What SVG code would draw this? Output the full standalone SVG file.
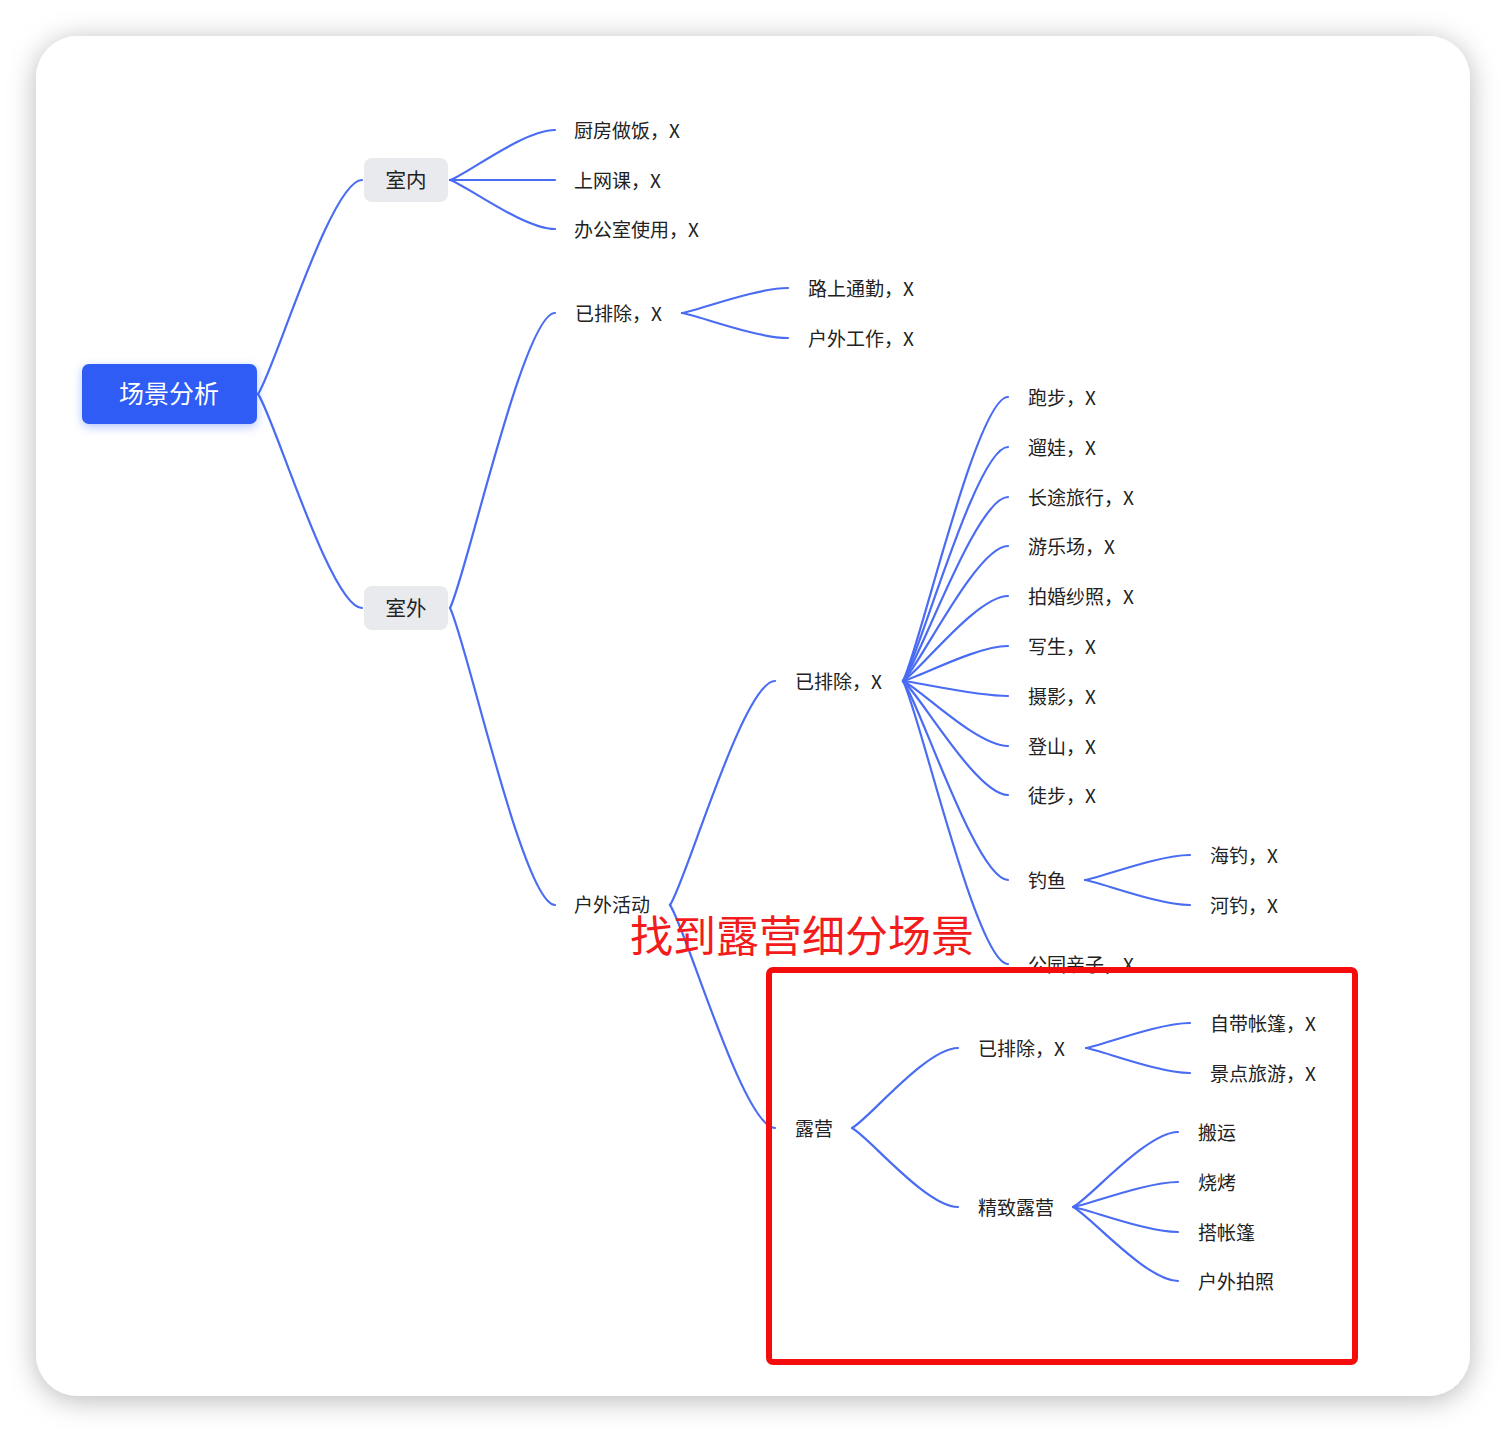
<svg xmlns="http://www.w3.org/2000/svg" width="1506" height="1432" viewBox="0 0 1506 1432">
<defs>
<style>
.t{font-family:"Noto Sans CJK SC","Noto Sans",sans-serif;font-size:19px;fill:#222;dominant-baseline:central}
.l1{font-family:"Noto Sans CJK SC","Noto Sans",sans-serif;font-size:20.5px;fill:#222;text-anchor:middle;dominant-baseline:central}
.c{fill:none;stroke:#4a6cf3;stroke-width:2.2;stroke-linecap:round}
.gray{fill:#e9eaed}
</style>
<filter id="card" x="-10%" y="-10%" width="120%" height="120%">
<feDropShadow dx="0" dy="4" stdDeviation="14" flood-color="#000" flood-opacity="0.28"/>
</filter>
<filter id="glow" x="-30%" y="-50%" width="160%" height="200%">
<feDropShadow dx="0" dy="3" stdDeviation="5" flood-color="#2f5cf5" flood-opacity="0.35"/>
</filter>
</defs>
<rect width="1506" height="1432" fill="#ffffff"/>
<rect x="36" y="36" width="1434" height="1360" rx="42" fill="#ffffff" filter="url(#card)"/>

<g id="connectors">
<path class="c" d="M258 394 C273.6 372.6 330.8 180 362 180"/>
<path class="c" d="M258 394 C273.6 415.4 330.8 608 362 608"/>
<path class="c" d="M450 180 C465.75 175 523.5 130 555 130"/>
<path class="c" d="M450 180 L555 180"/>
<path class="c" d="M450 180 C465.75 184.9 523.5 229 555 229"/>
<path class="c" d="M450 608 C465.75 578.5 523.5 313 555 313"/>
<path class="c" d="M450 608 C465.75 637.7 523.5 905 555 905"/>
<path class="c" d="M682 313 C697.9 310.5 756.2 288 788 288"/>
<path class="c" d="M682 313 C697.9 315.5 756.2 338 788 338"/>
<path class="c" d="M670 905 C685.75 882.6 743.5 681 775 681"/>
<path class="c" d="M670 905 C685.75 927.3 743.5 1128 775 1128"/>
<path class="c" d="M903 681 C918.75 652.6 976.5 397 1008 397"/>
<path class="c" d="M903 681 C918.75 657.6 976.5 447 1008 447"/>
<path class="c" d="M903 681 C918.75 662.6 976.5 497 1008 497"/>
<path class="c" d="M903 681 C918.75 667.5 976.5 546 1008 546"/>
<path class="c" d="M903 681 C918.75 672.5 976.5 596 1008 596"/>
<path class="c" d="M903 681 C918.75 677.5 976.5 646 1008 646"/>
<path class="c" d="M903 681 C918.75 682.5 976.5 696 1008 696"/>
<path class="c" d="M903 681 C918.75 687.5 976.5 746 1008 746"/>
<path class="c" d="M903 681 C918.75 692.4 976.5 795 1008 795"/>
<path class="c" d="M903 681 C918.75 700.9 976.5 880 1008 880"/>
<path class="c" d="M903 681 C918.75 709.1 976.5 964 1008 964"/>
<path class="c" d="M1085 880 C1100.75 877.5 1158.5 855 1190 855"/>
<path class="c" d="M1085 880 C1100.75 882.5 1158.5 905 1190 905"/>
<path class="c" d="M852 1128 C867.9 1120 926.2 1048 958 1048"/>
<path class="c" d="M852 1128 C867.9 1135.9 926.2 1207 958 1207"/>
<path class="c" d="M1086 1048 C1101.6 1045.5 1158.8 1023 1190 1023"/>
<path class="c" d="M1086 1048 C1101.6 1050.5 1158.8 1073 1190 1073"/>
<path class="c" d="M1073 1207 C1088.75 1199.5 1146.5 1132 1178 1132"/>
<path class="c" d="M1073 1207 C1088.75 1204.5 1146.5 1182 1178 1182"/>
<path class="c" d="M1073 1207 C1088.75 1209.5 1146.5 1232 1178 1232"/>
<path class="c" d="M1073 1207 C1088.75 1214.4 1146.5 1281 1178 1281"/>
</g>

<g id="root">
<rect x="82" y="364" width="175" height="60" rx="7" fill="#2f5cf5" filter="url(#glow)"/>
<text x="169" y="392" font-family="'Noto Sans CJK SC','Noto Sans',sans-serif" font-size="25" fill="#ffffff" text-anchor="middle" dominant-baseline="central">场景分析</text>
</g>
<g id="n-shinei"><rect class="gray" x="364" y="158" width="84" height="44" rx="8"/><text class="l1" x="406" y="179">室内</text></g>
<g id="n-shiwai"><rect class="gray" x="364" y="586" width="84" height="44" rx="8"/><text class="l1" x="406" y="607">室外</text></g>

<g id="n-chufang"><text class="t" x="574" y="129">厨房做饭，X</text></g>
<g id="n-shangwangke"><text class="t" x="574" y="179">上网课，X</text></g>
<g id="n-bangongshi"><text class="t" x="574" y="228">办公室使用，X</text></g>
<g id="n-yipaichu1"><text class="t" x="575" y="312">已排除，X</text></g>
<g id="n-lushang"><text class="t" x="808" y="287">路上通勤，X</text></g>
<g id="n-huwaigongzuo"><text class="t" x="808" y="337">户外工作，X</text></g>
<g id="n-huwaihuodong"><text class="t" x="574" y="903">户外活动</text></g>
<g id="n-yipaichu2"><text class="t" x="795" y="680">已排除，X</text></g>
<g id="n-paobu"><text class="t" x="1028" y="396">跑步，X</text></g>
<g id="n-liuwa"><text class="t" x="1028" y="446">遛娃，X</text></g>
<g id="n-changtu"><text class="t" x="1028" y="496">长途旅行，X</text></g>
<g id="n-youlechang"><text class="t" x="1028" y="545">游乐场，X</text></g>
<g id="n-hunsha"><text class="t" x="1028" y="595">拍婚纱照，X</text></g>
<g id="n-xiesheng"><text class="t" x="1028" y="645">写生，X</text></g>
<g id="n-sheying"><text class="t" x="1028" y="695">摄影，X</text></g>
<g id="n-dengshan"><text class="t" x="1028" y="745">登山，X</text></g>
<g id="n-tubu"><text class="t" x="1028" y="794">徒步，X</text></g>
<g id="n-diaoyu"><text class="t" x="1028" y="879">钓鱼</text></g>
<g id="n-haidiao"><text class="t" x="1210" y="854">海钓，X</text></g>
<g id="n-hediao"><text class="t" x="1210" y="904">河钓，X</text></g>
<g id="n-gongyuan"><text class="t" x="1028" y="963">公园亲子，X</text></g>
<g id="n-luying"><text class="t" x="795" y="1127">露营</text></g>
<g id="n-yipaichu3"><text class="t" x="978" y="1047">已排除，X</text></g>
<g id="n-zidai"><text class="t" x="1210" y="1022">自带帐篷，X</text></g>
<g id="n-jingdian"><text class="t" x="1210" y="1072">景点旅游，X</text></g>
<g id="n-jingzhi"><text class="t" x="978" y="1206">精致露营</text></g>
<g id="n-banyun"><text class="t" x="1198" y="1131">搬运</text></g>
<g id="n-shaokao"><text class="t" x="1198" y="1181">烧烤</text></g>
<g id="n-dazhangpeng"><text class="t" x="1198" y="1231">搭帐篷</text></g>
<g id="n-huwaipaizhao"><text class="t" x="1198" y="1280">户外拍照</text></g>

<g id="annotation">
<rect x="769" y="970" width="586" height="392" rx="4" fill="none" stroke="#f50d0d" stroke-width="6"/>
<text x="630" y="933" font-family="'Noto Sans CJK SC','Noto Sans',sans-serif" font-size="43" fill="#f21c1c" dominant-baseline="central">找到露营细分场景</text>
</g>
</svg>
